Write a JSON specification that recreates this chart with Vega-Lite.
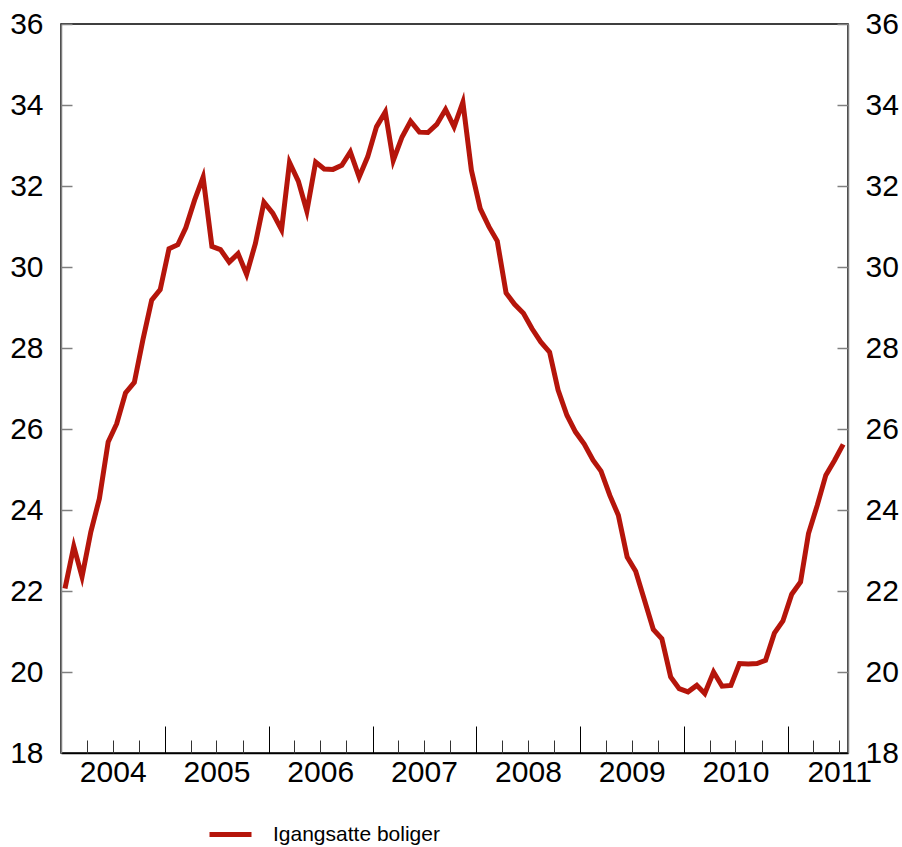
{
  "$schema": "https://vega.github.io/schema/vega-lite/v6.json",
  "width": 787,
  "height": 729,
  "autosize": "none",
  "padding": {"left": 61, "top": 24, "right": 54, "bottom": 94},
  "config": {
    "view": {"stroke": "#000000", "strokeWidth": 1.5},
    "font": "Liberation Sans",
    "axis": {"labelFont": "Liberation Sans", "grid": false, "labelColor": "#000000", "title": null}
  },
  "data": {
    "values": [
      {"date": "2004-01-15", "value": 22.06},
      {"date": "2004-02-15", "value": 23.1},
      {"date": "2004-03-15", "value": 22.35},
      {"date": "2004-04-15", "value": 23.46},
      {"date": "2004-05-15", "value": 24.28},
      {"date": "2004-06-15", "value": 25.68},
      {"date": "2004-07-15", "value": 26.13},
      {"date": "2004-08-15", "value": 26.89},
      {"date": "2004-09-15", "value": 27.15},
      {"date": "2004-10-15", "value": 28.2},
      {"date": "2004-11-15", "value": 29.18},
      {"date": "2004-12-15", "value": 29.44},
      {"date": "2005-01-15", "value": 30.45},
      {"date": "2005-02-15", "value": 30.55},
      {"date": "2005-03-15", "value": 30.97},
      {"date": "2005-04-15", "value": 31.65},
      {"date": "2005-05-15", "value": 32.22},
      {"date": "2005-06-15", "value": 30.51},
      {"date": "2005-07-15", "value": 30.43},
      {"date": "2005-08-15", "value": 30.12},
      {"date": "2005-09-15", "value": 30.33},
      {"date": "2005-10-15", "value": 29.82},
      {"date": "2005-11-15", "value": 30.58},
      {"date": "2005-12-15", "value": 31.6},
      {"date": "2006-01-15", "value": 31.33},
      {"date": "2006-02-15", "value": 30.92},
      {"date": "2006-03-15", "value": 32.58},
      {"date": "2006-04-15", "value": 32.12},
      {"date": "2006-05-15", "value": 31.38},
      {"date": "2006-06-15", "value": 32.59},
      {"date": "2006-07-15", "value": 32.42},
      {"date": "2006-08-15", "value": 32.41},
      {"date": "2006-09-15", "value": 32.51},
      {"date": "2006-10-15", "value": 32.84},
      {"date": "2006-11-15", "value": 32.22},
      {"date": "2006-12-15", "value": 32.72},
      {"date": "2007-01-15", "value": 33.46},
      {"date": "2007-02-15", "value": 33.83},
      {"date": "2007-03-15", "value": 32.63},
      {"date": "2007-04-15", "value": 33.21},
      {"date": "2007-05-15", "value": 33.6},
      {"date": "2007-06-15", "value": 33.33},
      {"date": "2007-07-15", "value": 33.32},
      {"date": "2007-08-15", "value": 33.52},
      {"date": "2007-09-15", "value": 33.89},
      {"date": "2007-10-15", "value": 33.46},
      {"date": "2007-11-15", "value": 34.07},
      {"date": "2007-12-15", "value": 32.39},
      {"date": "2008-01-15", "value": 31.44},
      {"date": "2008-02-15", "value": 30.99},
      {"date": "2008-03-15", "value": 30.64},
      {"date": "2008-04-15", "value": 29.36},
      {"date": "2008-05-15", "value": 29.08},
      {"date": "2008-06-15", "value": 28.86},
      {"date": "2008-07-15", "value": 28.48},
      {"date": "2008-08-15", "value": 28.15},
      {"date": "2008-09-15", "value": 27.9},
      {"date": "2008-10-15", "value": 26.96},
      {"date": "2008-11-15", "value": 26.34},
      {"date": "2008-12-15", "value": 25.93},
      {"date": "2009-01-15", "value": 25.63},
      {"date": "2009-02-15", "value": 25.23},
      {"date": "2009-03-15", "value": 24.96},
      {"date": "2009-04-15", "value": 24.36},
      {"date": "2009-05-15", "value": 23.87},
      {"date": "2009-06-15", "value": 22.84},
      {"date": "2009-07-15", "value": 22.49},
      {"date": "2009-08-15", "value": 21.77},
      {"date": "2009-09-15", "value": 21.05},
      {"date": "2009-10-15", "value": 20.82},
      {"date": "2009-11-15", "value": 19.88},
      {"date": "2009-12-15", "value": 19.59},
      {"date": "2010-01-15", "value": 19.51},
      {"date": "2010-02-15", "value": 19.67},
      {"date": "2010-03-15", "value": 19.47},
      {"date": "2010-04-15", "value": 20.0},
      {"date": "2010-05-15", "value": 19.65},
      {"date": "2010-06-15", "value": 19.67},
      {"date": "2010-07-15", "value": 20.21},
      {"date": "2010-08-15", "value": 20.2},
      {"date": "2010-09-15", "value": 20.21},
      {"date": "2010-10-15", "value": 20.29},
      {"date": "2010-11-15", "value": 20.96},
      {"date": "2010-12-15", "value": 21.26},
      {"date": "2011-01-15", "value": 21.92},
      {"date": "2011-02-15", "value": 22.22},
      {"date": "2011-03-15", "value": 23.42},
      {"date": "2011-04-15", "value": 24.12},
      {"date": "2011-05-15", "value": 24.86},
      {"date": "2011-06-15", "value": 25.23},
      {"date": "2011-07-15", "value": 25.62}
    ]
  },
  "resolve": {"axis": {"x": "independent", "y": "independent"}},
  "layer": [
    {
      "mark": {"type": "line", "strokeWidth": 5, "strokeJoin": "miter", "strokeMiterLimit": 10},
      "encoding": {
        "x": {
          "field": "date", "type": "temporal",
          "scale": {"type": "utc", "domain": [{"year": 2004, "month": 1, "date": 1, "utc": true}, {"year": 2011, "month": 8, "date": 1, "utc": true}]},
          "axis": {
            "orient": "bottom",
            "values": [
              {"year": 2004, "month": 7, "date": 1, "utc": true},
              {"year": 2005, "month": 7, "date": 1, "utc": true},
              {"year": 2006, "month": 7, "date": 1, "utc": true},
              {"year": 2007, "month": 7, "date": 1, "utc": true},
              {"year": 2008, "month": 7, "date": 1, "utc": true},
              {"year": 2009, "month": 7, "date": 1, "utc": true},
              {"year": 2010, "month": 7, "date": 1, "utc": true},
              {"year": 2011, "month": 7, "date": 1, "utc": true}
            ],
            "labelExpr": "utcFormat(datum.value, '%Y')",
            "ticks": false, "domain": true, "domainColor": "#000000", "domainWidth": 1.5,
            "labelFontSize": 30, "labelPadding": 4, "labelFlush": false, "labelOverlap": false, "labelBound": false
          }
        },
        "y": {
          "field": "value", "type": "quantitative",
          "scale": {"domain": [18, 36], "nice": false, "zero": false},
          "axis": {
            "orient": "left", "values": [18, 20, 22, 24, 26, 28, 30, 32, 34, 36],
            "ticks": false, "domain": true, "domainColor": "#808080", "domainWidth": 1.5,
            "labelFontSize": 30, "labelPadding": 18, "labelOverlap": false
          }
        },
        "color": {
          "datum": "Igangsatte boliger",
          "scale": {"range": ["#b5150b"]},
          "legend": {
            "orient": "none", "legendX": 146, "legendY": 787, "title": null,
            "symbolType": "stroke", "symbolSize": 1764, "symbolStrokeWidth": 5,
            "labelFontSize": 21, "labelFont": "Liberation Sans", "labelColor": "#000000",
            "labelOffset": 19, "labelLimit": 400, "padding": 0
          }
        }
      }
    },
    {
      "mark": {"type": "point", "opacity": 0},
      "encoding": {
        "x": {
          "field": "date", "type": "temporal",
          "axis": {
            "orient": "bottom",
            "values": [
              {"year": 2004, "month": 1, "date": 1, "utc": true},
              {"year": 2005, "month": 1, "date": 1, "utc": true},
              {"year": 2006, "month": 1, "date": 1, "utc": true},
              {"year": 2007, "month": 1, "date": 1, "utc": true},
              {"year": 2008, "month": 1, "date": 1, "utc": true},
              {"year": 2009, "month": 1, "date": 1, "utc": true},
              {"year": 2010, "month": 1, "date": 1, "utc": true},
              {"year": 2011, "month": 1, "date": 1, "utc": true}
            ],
            "labels": false, "domain": false, "ticks": true, "tickSize": -27, "tickColor": "#000000", "tickWidth": 1
          }
        },
        "y": {
          "field": "value", "type": "quantitative",
          "axis": {
            "orient": "right", "values": [18, 20, 22, 24, 26, 28, 30, 32, 34, 36],
            "ticks": false, "domain": true, "domainColor": "#808080", "domainWidth": 1.5,
            "labelFontSize": 30, "labelPadding": 17, "labelOverlap": false
          }
        }
      }
    },
    {
      "mark": {"type": "point", "opacity": 0},
      "encoding": {
        "x": {
          "field": "date", "type": "temporal",
          "axis": {
            "orient": "bottom",
            "values": [
              {"year": 2004, "month": 4, "date": 1, "utc": true},
              {"year": 2004, "month": 7, "date": 1, "utc": true},
              {"year": 2004, "month": 10, "date": 1, "utc": true},
              {"year": 2005, "month": 4, "date": 1, "utc": true},
              {"year": 2005, "month": 7, "date": 1, "utc": true},
              {"year": 2005, "month": 10, "date": 1, "utc": true},
              {"year": 2006, "month": 4, "date": 1, "utc": true},
              {"year": 2006, "month": 7, "date": 1, "utc": true},
              {"year": 2006, "month": 10, "date": 1, "utc": true},
              {"year": 2007, "month": 4, "date": 1, "utc": true},
              {"year": 2007, "month": 7, "date": 1, "utc": true},
              {"year": 2007, "month": 10, "date": 1, "utc": true},
              {"year": 2008, "month": 4, "date": 1, "utc": true},
              {"year": 2008, "month": 7, "date": 1, "utc": true},
              {"year": 2008, "month": 10, "date": 1, "utc": true},
              {"year": 2009, "month": 4, "date": 1, "utc": true},
              {"year": 2009, "month": 7, "date": 1, "utc": true},
              {"year": 2009, "month": 10, "date": 1, "utc": true},
              {"year": 2010, "month": 4, "date": 1, "utc": true},
              {"year": 2010, "month": 7, "date": 1, "utc": true},
              {"year": 2010, "month": 10, "date": 1, "utc": true},
              {"year": 2011, "month": 4, "date": 1, "utc": true},
              {"year": 2011, "month": 7, "date": 1, "utc": true}
            ],
            "labels": false, "domain": false, "ticks": true, "tickSize": -13, "tickColor": "#333333", "tickWidth": 1
          }
        },
        "y": {
          "field": "value", "type": "quantitative",
          "axis": {
            "orient": "left", "values": [20, 22, 24, 26, 28, 30, 32, 34, 36],
            "labels": false, "domain": false, "ticks": true, "tickSize": -11, "tickColor": "#808080", "tickWidth": 1.5
          }
        }
      }
    },
    {
      "mark": {"type": "point", "opacity": 0},
      "encoding": {
        "x": {"field": "date", "type": "temporal", "axis": null},
        "y": {
          "field": "value", "type": "quantitative",
          "axis": {
            "orient": "right", "values": [20, 22, 24, 26, 28, 30, 32, 34, 36],
            "labels": false, "domain": false, "ticks": true, "tickSize": -11, "tickColor": "#808080", "tickWidth": 1.5
          }
        }
      }
    }
  ]
}
